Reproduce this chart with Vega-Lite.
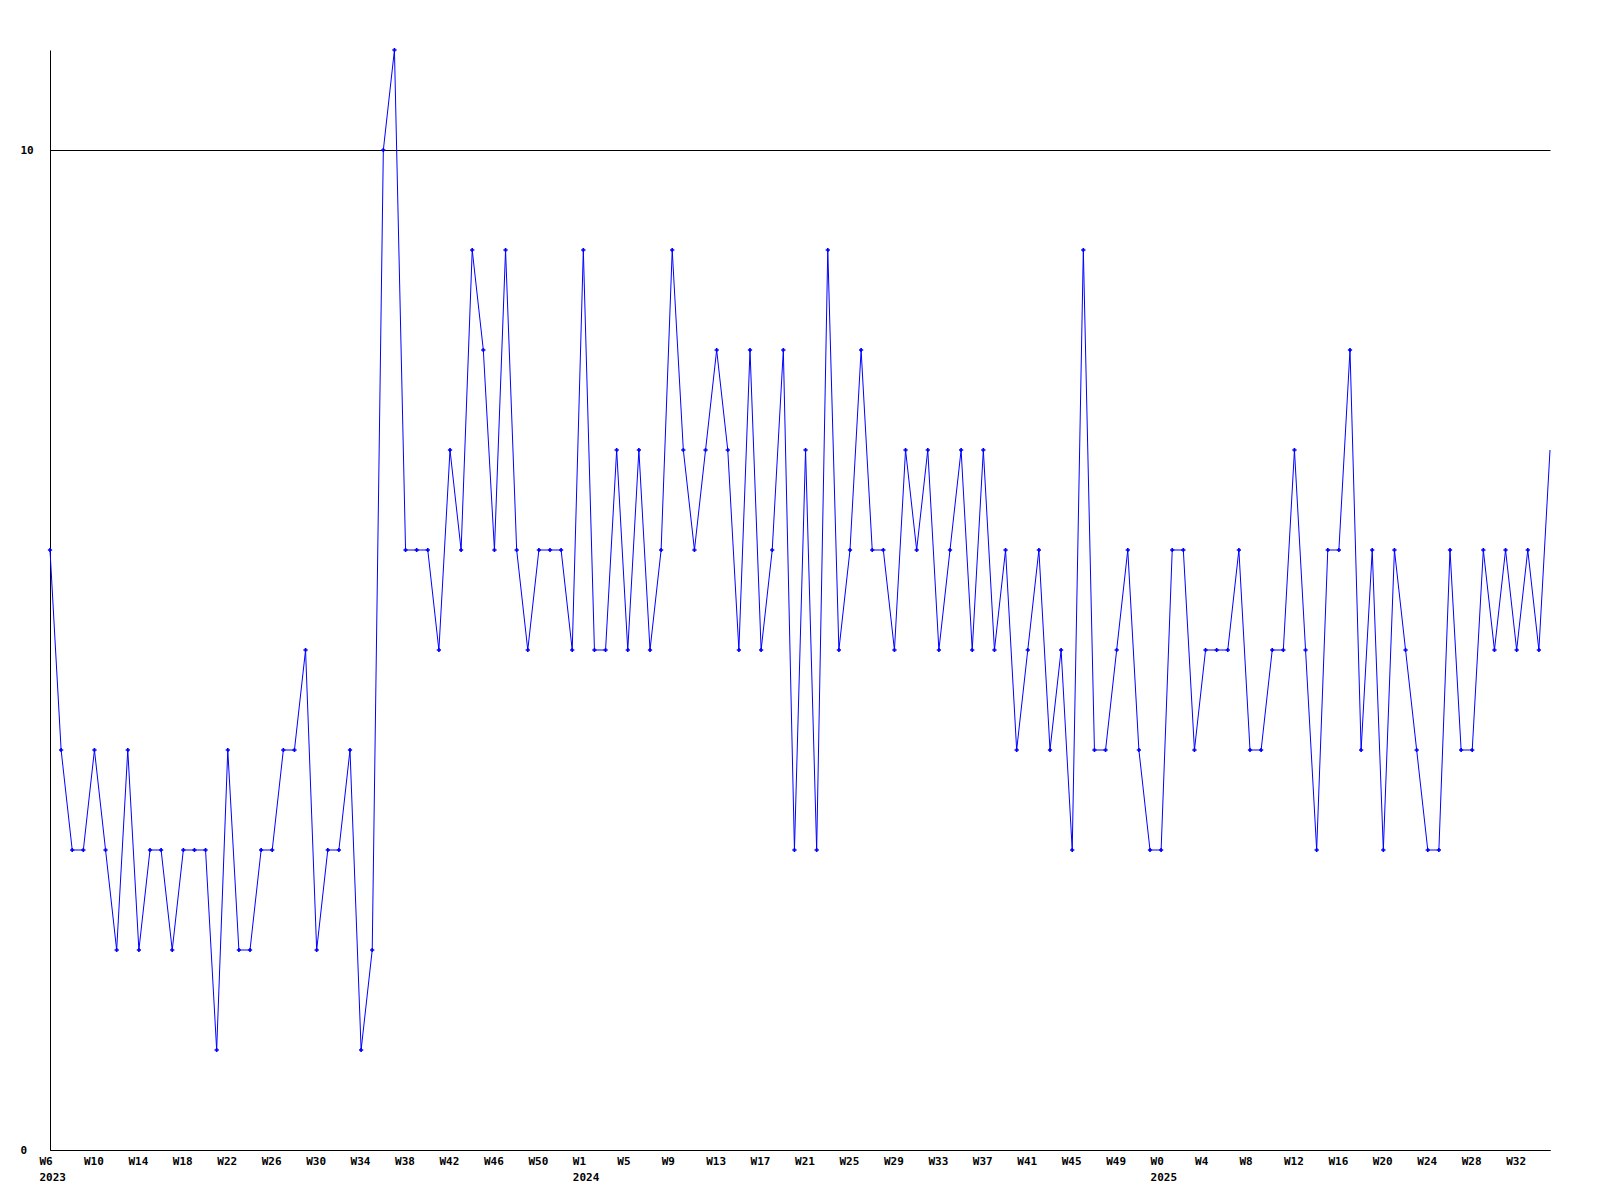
{
  "$schema": "https://vega.github.io/schema/vega-lite/v6.json",
  "width": 1500,
  "height": 1100,
  "autosize": {"type": "none"},
  "padding": {"left": 50, "top": 50, "right": 50, "bottom": 50},
  "background": "white",
  "config": {"view": {"stroke": null}},
  "data": {"values": [
    {"week": "2023-W06", "count": 6}, {"week": "2023-W07", "count": 4}, {"week": "2023-W08", "count": 3}, {"week": "2023-W09", "count": 3},
    {"week": "2023-W10", "count": 4}, {"week": "2023-W11", "count": 3}, {"week": "2023-W12", "count": 2}, {"week": "2023-W13", "count": 4},
    {"week": "2023-W14", "count": 2}, {"week": "2023-W15", "count": 3}, {"week": "2023-W16", "count": 3}, {"week": "2023-W17", "count": 2},
    {"week": "2023-W18", "count": 3}, {"week": "2023-W19", "count": 3}, {"week": "2023-W20", "count": 3}, {"week": "2023-W21", "count": 1},
    {"week": "2023-W22", "count": 4}, {"week": "2023-W23", "count": 2}, {"week": "2023-W24", "count": 2}, {"week": "2023-W25", "count": 3},
    {"week": "2023-W26", "count": 3}, {"week": "2023-W27", "count": 4}, {"week": "2023-W28", "count": 4}, {"week": "2023-W29", "count": 5},
    {"week": "2023-W30", "count": 2}, {"week": "2023-W31", "count": 3}, {"week": "2023-W32", "count": 3}, {"week": "2023-W33", "count": 4},
    {"week": "2023-W34", "count": 1}, {"week": "2023-W35", "count": 2}, {"week": "2023-W36", "count": 10}, {"week": "2023-W37", "count": 11},
    {"week": "2023-W38", "count": 6}, {"week": "2023-W39", "count": 6}, {"week": "2023-W40", "count": 6}, {"week": "2023-W41", "count": 5},
    {"week": "2023-W42", "count": 7}, {"week": "2023-W43", "count": 6}, {"week": "2023-W44", "count": 9}, {"week": "2023-W45", "count": 8},
    {"week": "2023-W46", "count": 6}, {"week": "2023-W47", "count": 9}, {"week": "2023-W48", "count": 6}, {"week": "2023-W49", "count": 5},
    {"week": "2023-W50", "count": 6}, {"week": "2023-W51", "count": 6}, {"week": "2023-W52", "count": 6}, {"week": "2023-W53", "count": 5},
    {"week": "2024-W01", "count": 9}, {"week": "2024-W02", "count": 5}, {"week": "2024-W03", "count": 5}, {"week": "2024-W04", "count": 7},
    {"week": "2024-W05", "count": 5}, {"week": "2024-W06", "count": 7}, {"week": "2024-W07", "count": 5}, {"week": "2024-W08", "count": 6},
    {"week": "2024-W09", "count": 9}, {"week": "2024-W10", "count": 7}, {"week": "2024-W11", "count": 6}, {"week": "2024-W12", "count": 7},
    {"week": "2024-W13", "count": 8}, {"week": "2024-W14", "count": 7}, {"week": "2024-W15", "count": 5}, {"week": "2024-W16", "count": 8},
    {"week": "2024-W17", "count": 5}, {"week": "2024-W18", "count": 6}, {"week": "2024-W19", "count": 8}, {"week": "2024-W20", "count": 3},
    {"week": "2024-W21", "count": 7}, {"week": "2024-W22", "count": 3}, {"week": "2024-W23", "count": 9}, {"week": "2024-W24", "count": 5},
    {"week": "2024-W25", "count": 6}, {"week": "2024-W26", "count": 8}, {"week": "2024-W27", "count": 6}, {"week": "2024-W28", "count": 6},
    {"week": "2024-W29", "count": 5}, {"week": "2024-W30", "count": 7}, {"week": "2024-W31", "count": 6}, {"week": "2024-W32", "count": 7},
    {"week": "2024-W33", "count": 5}, {"week": "2024-W34", "count": 6}, {"week": "2024-W35", "count": 7}, {"week": "2024-W36", "count": 5},
    {"week": "2024-W37", "count": 7}, {"week": "2024-W38", "count": 5}, {"week": "2024-W39", "count": 6}, {"week": "2024-W40", "count": 4},
    {"week": "2024-W41", "count": 5}, {"week": "2024-W42", "count": 6}, {"week": "2024-W43", "count": 4}, {"week": "2024-W44", "count": 5},
    {"week": "2024-W45", "count": 3}, {"week": "2024-W46", "count": 9}, {"week": "2024-W47", "count": 4}, {"week": "2024-W48", "count": 4},
    {"week": "2024-W49", "count": 5}, {"week": "2024-W50", "count": 6}, {"week": "2024-W51", "count": 4}, {"week": "2024-W52", "count": 3},
    {"week": "2025-W00", "count": 3}, {"week": "2025-W01", "count": 6}, {"week": "2025-W02", "count": 6}, {"week": "2025-W03", "count": 4},
    {"week": "2025-W04", "count": 5}, {"week": "2025-W05", "count": 5}, {"week": "2025-W06", "count": 5}, {"week": "2025-W07", "count": 6},
    {"week": "2025-W08", "count": 4}, {"week": "2025-W09", "count": 4}, {"week": "2025-W10", "count": 5}, {"week": "2025-W11", "count": 5},
    {"week": "2025-W12", "count": 7}, {"week": "2025-W13", "count": 5}, {"week": "2025-W14", "count": 3}, {"week": "2025-W15", "count": 6},
    {"week": "2025-W16", "count": 6}, {"week": "2025-W17", "count": 8}, {"week": "2025-W18", "count": 4}, {"week": "2025-W19", "count": 6},
    {"week": "2025-W20", "count": 3}, {"week": "2025-W21", "count": 6}, {"week": "2025-W22", "count": 5}, {"week": "2025-W23", "count": 4},
    {"week": "2025-W24", "count": 3}, {"week": "2025-W25", "count": 3}, {"week": "2025-W26", "count": 6}, {"week": "2025-W27", "count": 4},
    {"week": "2025-W28", "count": 4}, {"week": "2025-W29", "count": 6}, {"week": "2025-W30", "count": 5}, {"week": "2025-W31", "count": 6},
    {"week": "2025-W32", "count": 5}, {"week": "2025-W33", "count": 6}, {"week": "2025-W34", "count": 5}, {"week": "2025-W35", "count": 7}
  ]},
  "encoding": {
    "x": {
      "field": "week",
      "type": "ordinal",
      "sort": null,
      "scale": {"type": "point", "padding": 0},
      "axis": {
        "title": null,
        "values": ["2023-W06", "2023-W10", "2023-W14", "2023-W18", "2023-W22", "2023-W26", "2023-W30", "2023-W34", "2023-W38", "2023-W42", "2023-W46", "2023-W50",
                   "2024-W01", "2024-W05", "2024-W09", "2024-W13", "2024-W17", "2024-W21", "2024-W25", "2024-W29", "2024-W33", "2024-W37", "2024-W41", "2024-W45", "2024-W49",
                   "2025-W00", "2025-W04", "2025-W08", "2025-W12", "2025-W16", "2025-W20", "2025-W24", "2025-W28", "2025-W32"],
        "labelExpr": "indexof(['2023-W06','2024-W01','2025-W00'], datum.value) >= 0 ? ['W' + toNumber(substring(datum.value, 6)), substring(datum.value, 0, 4)] : 'W' + toNumber(substring(datum.value, 6))",
        "labelAngle": 0,
        "labelAlign": "left",
        "labelBaseline": "top",
        "labelOffset": -11,
        "labelPadding": 5,
        "labelLineHeight": 16,
        "labelFont": "DejaVu Sans Mono",
        "labelFontWeight": "bold",
        "labelFontSize": 11,
        "labelColor": "black",
        "labelOverlap": false,
        "labelBound": false,
        "labelFlush": false,
        "ticks": false,
        "grid": false,
        "domainColor": "black",
        "domainWidth": 1
      }
    },
    "y": {
      "field": "count",
      "type": "quantitative",
      "scale": {"domain": [0, 11], "nice": false, "zero": true},
      "axis": {
        "title": null,
        "values": [0, 10],
        "labelAlign": "left",
        "labelBaseline": "middle",
        "labelPadding": 30,
        "labelFont": "DejaVu Sans Mono",
        "labelFontWeight": "bold",
        "labelFontSize": 11,
        "labelColor": "black",
        "ticks": false,
        "grid": true,
        "gridColor": "black",
        "gridOpacity": 1,
        "gridWidth": 1,
        "domainColor": "black",
        "domainWidth": 1
      }
    }
  },
  "layer": [
    {"mark": {"type": "line", "color": "#0000ff", "strokeWidth": 1}},
    {
      "transform": [{"filter": "datum.week != '2025-W35'"}],
      "mark": {"type": "point", "shape": "cross", "filled": true, "size": 18, "color": "#0000ff", "opacity": 1}
    }
  ]
}
